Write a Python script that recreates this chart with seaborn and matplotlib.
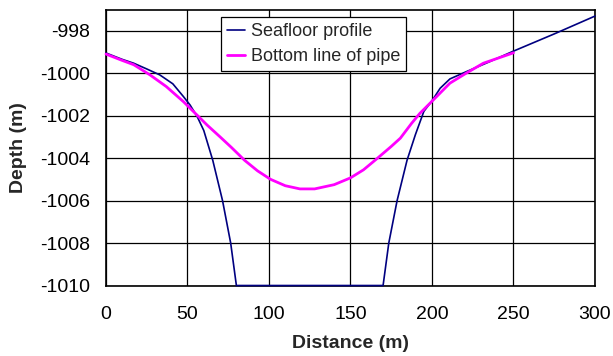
import matplotlib
matplotlib.use("Agg")
import matplotlib.pyplot as plt
import seaborn as sns
import pandas as pd

# Seafloor profile
seafloor_x = [0, 10, 17, 25, 33, 41, 47.5, 51.6, 56, 60, 65.5, 71.5, 76.5, 80,
              170, 173.5, 178.6, 184.7, 189.8, 195, 200, 205, 211, 221, 235, 250, 275, 300]
seafloor_y = [-999.05, -999.35, -999.53, -999.8, -1000.08, -1000.5, -1001.1, -1001.5,
              -1002.05, -1002.7, -1004.1, -1006.0, -1008.0, -1010.0,
              -1010.0, -1008.0, -1006.0, -1004.1, -1002.9, -1001.8, -1001.3, -1000.71,
              -1000.27, -999.93, -999.47, -998.96, -998.15, -997.31]

# Bottom line of pipe
pipe_x = [0, 10, 17, 27, 37, 47.5, 57.8, 62, 70, 77, 85, 93, 101, 110, 119, 128,
          140, 150, 158, 166, 175, 180.6, 187.5, 192.6, 200.8, 211, 221, 231.5, 250]
pipe_y = [-999.1, -999.4, -999.6, -1000.08, -1000.63, -1001.34, -1002.12, -1002.44,
          -1003.0, -1003.5, -1004.1, -1004.6, -1005.0, -1005.3, -1005.45, -1005.45,
          -1005.25, -1004.93, -1004.55, -1004.04, -1003.45, -1003.06, -1002.36, -1001.89,
          -1001.26, -1000.47, -1000.0, -999.53, -999.04]

x_ticks = [0, 50, 100, 150, 200, 250, 300]
y_ticks = [-998, -1000, -1002, -1004, -1006, -1008, -1010]

sns.set_style("white")
plt.rcParams['font.family'] = ['Liberation Sans', 'DejaVu Sans']

fig = plt.figure(figsize=(6.13, 3.56), dpi=100)
ax = fig.add_axes([0.1729, 0.198, 0.7977, 0.7753])

df_sea = pd.DataFrame({"x": seafloor_x, "y": seafloor_y})
df_pipe = pd.DataFrame({"x": pipe_x, "y": pipe_y})

sns.lineplot(data=df_sea, x="x", y="y", ax=ax, color="#000080", lw=1.2,
             sort=False, estimator=None, label="Seafloor profile")
sns.lineplot(data=df_pipe, x="x", y="y", ax=ax, color="#FF00FF", lw=2.0,
             sort=False, estimator=None, label="Bottom line of pipe")
for ln in ax.lines:
    ln.set_clip_on(False)
    ln.set_zorder(4)

ax.set_xlim(0, 300)
ax.set_ylim(-1010, -997)
ax.set_xticks(x_ticks)
ax.set_yticks(y_ticks)
ax.set_yticklabels([str(v) for v in y_ticks])
ax.grid(True, color="black", lw=0.9)
ax.set_axisbelow(True)
for s in ax.spines.values():
    s.set_color("black")
    s.set_linewidth(1.2)
ax.tick_params(length=0, labelsize=14, colors="black")
ax.tick_params(axis="x", pad=14.5)
ax.tick_params(axis="y", pad=11.5)

ax.set_xlabel("Distance (m)", fontsize=14, fontweight="bold", labelpad=9)
ax.set_ylabel("Depth (m)", fontsize=14, fontweight="bold", labelpad=9)

leg = ax.legend(loc="upper left", bbox_to_anchor=(0.235, 0.974), fontsize=13,
                frameon=True, fancybox=False, framealpha=1, edgecolor="black",
                borderpad=0.35, labelspacing=0.45, handlelength=1.0, handletextpad=0.3,
                borderaxespad=0)
leg.get_frame().set_linewidth(0.9)
leg.set_zorder(5)

fig.savefig("out.png", dpi=100)
